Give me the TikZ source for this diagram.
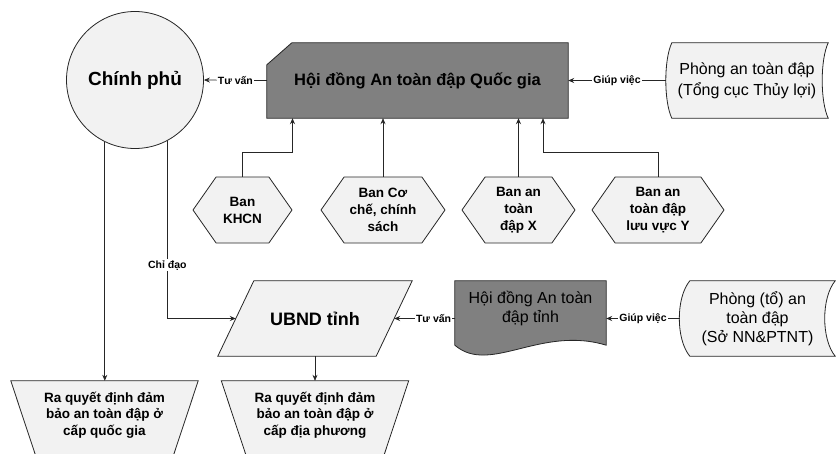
\documentclass[tikz,border=0pt]{standalone}
\usepackage{fontspec}
\setmainfont{Liberation Sans}
\usetikzlibrary{arrows.meta,shapes.geometric,shapes.symbols,backgrounds}

\tikzset{
  lightbox/.style={draw=black!85, line width=0.8pt, fill=black!5},
  darkbox/.style={draw=black!85, line width=0.8pt, fill=black!50},
  banbox/.style={lightbox, signal, signal to=west and east, signal pointer angle=110,
    minimum height=66pt, inner sep=1pt, align=center,
    font=\fontsize{13.5}{17}\selectfont\bfseries},
  rqbox/.style={minimum width=187pt, minimum height=84pt,
    align=center, text depth=19pt, font=\fontsize{13.5}{16.5}\selectfont\bfseries},
  arr/.style={draw=black!85, line width=0.7pt, -{Stealth[length=6pt,width=5pt]}},
  lbl/.style={fill=white, inner sep=1pt, font=\fontsize{10.5}{12}\selectfont\bfseries},
}

\begin{document}
\begin{tikzpicture}[x=1pt, y=-1pt]
\path[use as bounding box] (0,0) rectangle (836,453);
\clip (0,0) rectangle (836,453);

\node[lightbox, circle, minimum size=137pt, font=\fontsize{19}{22}\selectfont\bfseries] (cp) at (135,80) {Chính phủ};
\node[minimum width=301pt, minimum height=75pt, font=\fontsize{16.5}{20}\selectfont\bfseries] (hdqg) at (417.5,80.5) {Hội đồng An toàn đập Quốc gia};
\node[minimum width=162pt, minimum height=75pt, align=center, font=\fontsize{16}{21}\selectfont] (ptc) at (747,80.5) {Phòng an toàn đập\\(Tổng cục Thủy lợi)};

\node[banbox, minimum width=99pt] (khcn) at (242.5,210) {Ban\\KHCN};
\node[banbox, minimum width=124pt] (cc) at (383,210) {Ban Cơ\\chế, chính\\sách};
\node[banbox, minimum width=113pt] (dx) at (518.5,210) {Ban an\\toàn\\đập X};
\node[banbox, minimum width=132pt] (lvy) at (658,210) {Ban an\\toàn đập\\lưu vực Y};

\node[minimum width=194pt, minimum height=75pt, font=\fontsize{18}{22}\selectfont\bfseries] (ubnd) at (315,318.5) {UBND tỉnh};
\node[minimum width=151pt, minimum height=75pt, align=center, text depth=23pt, font=\fontsize{16}{19}\selectfont] (hdt) at (530.5,318.5) {Hội đồng An toàn\\đập tỉnh};
\node[minimum width=155pt, minimum height=75pt, align=center, font=\fontsize{16}{19}\selectfont] (ptt) at (757.5,318.5) {Phòng (tổ) an\\toàn đập\\(Sở NN\&PTNT)};

\node[rqbox] (rq1) at (104.5,423) {Ra quyết định đảm\\bảo an toàn đập ở\\cấp quốc gia};
\node[rqbox] (rq2) at (315,423) {Ra quyết định đảm\\bảo an toàn đập ở\\cấp địa phương};

\begin{scope}[on background layer]
\filldraw[darkbox] ([yshift=-22pt]hdqg.north west) -- ([xshift=25pt]hdqg.north west) -- (hdqg.north east) -- (hdqg.south east) -- (hdqg.south west) -- cycle;
\filldraw[lightbox] ([xshift=6pt]ptc.north west) -- (ptc.north east) .. controls +(-8,17) and +(-8,-17) .. (ptc.south east) -- ([xshift=6pt]ptc.south west) .. controls +(-8,-17) and +(-8,17) .. ([xshift=6pt]ptc.north west) -- cycle;
\filldraw[lightbox] ([xshift=36pt]ubnd.north west) -- (ubnd.north east) -- ([xshift=-36pt]ubnd.south east) -- (ubnd.south west) -- cycle;
\filldraw[darkbox] (hdt.north west) -- (hdt.north east) -- ([yshift=11pt]hdt.south east) .. controls +(-66,-20) and +(35,30) .. ([yshift=11pt]hdt.south west) -- cycle;
\filldraw[lightbox] ([xshift=10pt]ptt.north west) -- (ptt.north east) .. controls +(-14,17) and +(-14,-17) .. (ptt.south east) -- ([xshift=10pt]ptt.south west) .. controls +(-14,-17) and +(-14,17) .. ([xshift=10pt]ptt.north west) -- cycle;
\foreach \r in {rq1,rq2}
  \filldraw[lightbox] (\r.north west) -- (\r.north east) -- ([xshift=-28pt]\r.south east) -- ([xshift=28pt]\r.south west) -- cycle;
\end{scope}

\draw[arr] (hdqg.west) -- node[lbl]{Tư vấn} (cp.east);
\draw[arr] (ptc.west) -- node[lbl]{Giúp việc} (hdqg.east);
\draw[arr] (khcn.north) |- ++(50,-24) -- ([xshift=-125pt]hdqg.south);
\draw[arr] (cc.north) -- (cc.north |- hdqg.south);
\draw[arr] (dx.north) -- (dx.north |- hdqg.south);
\draw[arr] (lvy.north) |- ++(-115,-24) -- ([xshift=125.5pt]hdqg.south);

\draw[arr] (cp.-62) |- node[lbl, pos=0.35]{Chỉ đạo} ([xshift=18pt]ubnd.west);
\draw[arr] (cp.-116) -- (cp.-116 |- rq1.north);
\draw[arr] (hdt.west) -- node[lbl, pos=0.35]{Tư vấn} ([xshift=-18pt]ubnd.east);
\draw[arr] (ptt.west) -- node[lbl]{Giúp việc} (hdt.east);
\draw[arr] (ubnd.south) -- (rq2.north);
\end{tikzpicture}
\end{document}
